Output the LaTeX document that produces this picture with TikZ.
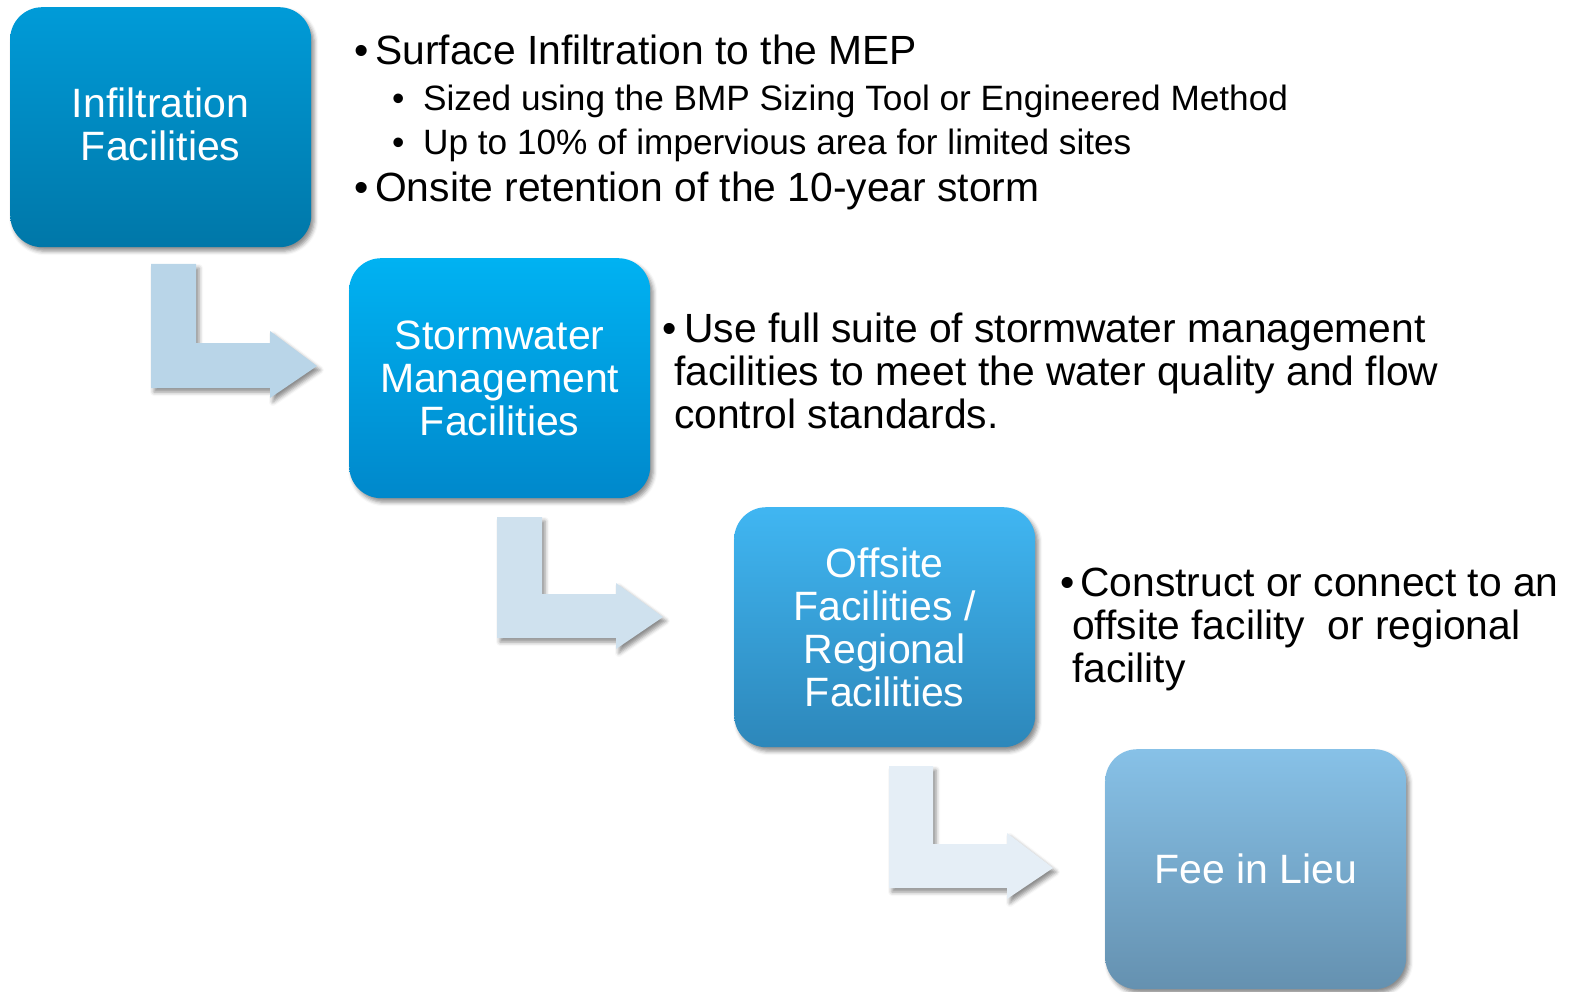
\documentclass[tikz,border=0pt]{standalone}
\usepackage{fontspec}
\setmainfont{Liberation Sans}
\usetikzlibrary{shadows.blur}

\definecolor{boxAtop}{HTML}{009BD8}
\definecolor{boxAbot}{HTML}{0077A8}
\definecolor{boxBtop}{HTML}{00B2F2}
\definecolor{boxBbot}{HTML}{0088CB}
\definecolor{boxCtop}{HTML}{40B6F2}
\definecolor{boxCbot}{HTML}{2D87BA}
\definecolor{boxDtop}{HTML}{87C1E7}
\definecolor{boxDbot}{HTML}{6591B0}
\definecolor{arrowA}{HTML}{B9D5E8}
\definecolor{arrowB}{HTML}{CFE1EE}
\definecolor{arrowC}{HTML}{E5EEF6}

\begin{document}
\begin{tikzpicture}[x=1pt,y=-1pt,
  softshadow/.style={blur shadow={shadow xshift=3pt, shadow yshift=-4pt,
      shadow blur radius=4pt, shadow opacity=45}},
  stage/.style={softshadow, rounded corners=32pt, anchor=north west,
      minimum width=301pt, minimum height=240pt, inner sep=0pt,
      text=white, align=center, font=\fontsize{41}{43}\selectfont},
  bent/.style={softshadow},
  mainline/.style={anchor=base west, inner sep=0pt, font=\fontsize{40.8}{43}\selectfont},
  subline/.style={anchor=base west, inner sep=0pt, font=\fontsize{35.2}{40}\selectfont}
]
\useasboundingbox (0,0) rectangle (1571,992);

% bent arrows between the stages
\fill[bent, arrowA] (151,264) -- (196,264) -- (196,343) -- (270,343) -- (270,331)
  -- (317,366) -- (270,398) -- (270,388) -- (151,388) -- cycle;
\fill[bent, arrowB] (497,517) -- (542,517) -- (542,594) -- (616,594) -- (616,583)
  -- (663,617) -- (616,649) -- (616,638) -- (497,638) -- cycle;
\fill[bent, arrowC] (889,766) -- (933,766) -- (933,844) -- (1007,844) -- (1007,833)
  -- (1053,868) -- (1007,899) -- (1007,888) -- (889,888) -- cycle;

% stages
\node[stage, top color=boxAtop, bottom color=boxAbot] (infil) at (10,7)
  {Infiltration\\Facilities\rule[-6pt]{0pt}{6pt}};
\node[stage, top color=boxBtop, bottom color=boxBbot] (storm) at (349,258)
  {Stormwater\\Management\\Facilities};
\node[stage, top color=boxCtop, bottom color=boxCbot] (offsite) at (734,507)
  {Offsite\\Facilities /\\Regional\\Facilities};
\node[stage, top color=boxDtop, bottom color=boxDbot] (fee) at (1105,749)
  {Fee in Lieu};

% notes for the first stage
\node[mainline] (n1a) at (354,65) {\makebox[21pt][l]{•}Surface Infiltration to the MEP};
\node[subline] (n1b) at (392,111) {\makebox[31pt][l]{•}Sized using the BMP Sizing Tool or Engineered Method};
\node[subline] (n1c) at (392,155) {\makebox[31pt][l]{•}Up to 10\% of impervious area for limited sites};
\node[mainline] (n1d) at (354,202) {\makebox[21pt][l]{•}Onsite retention of the 10-year storm};

% notes for the second stage
\node[mainline] (n2a) at (662,342) {\makebox[22pt][l]{•}Use full suite of stormwater management};
\node[mainline] (n2b) at (674,385) {facilities to meet the water quality and flow};
\node[mainline] (n2c) at (674,428) {control standards.};

% notes for the third stage
\node[mainline] (n3a) at (1060,596) {\makebox[20pt][l]{•}Construct or connect to an};
\node[mainline] (n3b) at (1072,639) {offsite facility\ \ or regional};
\node[mainline] (n3c) at (1072,682) {facility};
\end{tikzpicture}
\end{document}
